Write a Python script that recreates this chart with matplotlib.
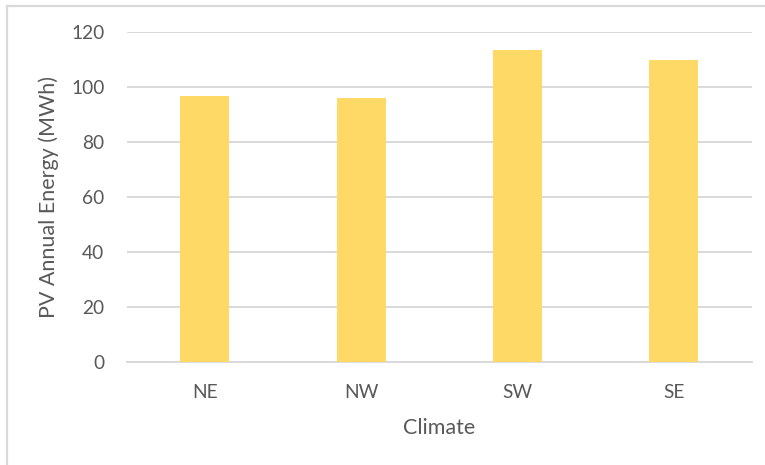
import matplotlib as mpl
mpl.use("Agg")
import matplotlib.pyplot as plt
from matplotlib.lines import Line2D

climates = ["NE", "NW", "SW", "SE"]
pv_energy = [96.7, 96.0, 113.4, 109.7]
y_ticks = [0, 20, 40, 60, 80, 100, 120]

TEXT = "#595959"
GRID = "#d9d9d9"
BAR = "#fed966"

mpl.rcParams["font.family"] = ["Lato", "DejaVu Sans"]

W, H = 765, 465
fig = plt.figure(figsize=(W / 100, H / 100), dpi=100)
ax = fig.add_axes([126.7 / W, 1 - 361.7 / H, (752 - 126.7) / W, (361.7 - 31.7) / H])

x = range(len(climates))
ax.bar(x, pv_energy, width=0.315, color=BAR, zorder=3)

ax.set_xlim(-0.5, len(climates) - 0.5)
ax.set_ylim(0, 120)
ax.set_yticks(y_ticks)
ax.set_xticks(list(x))
ax.set_xticklabels(climates)

ax.grid(axis="y", color=GRID, lw=1.4, zorder=0)
ax.set_axisbelow(True)
for s in ["top", "right", "left"]:
    ax.spines[s].set_visible(False)
ax.spines["bottom"].set_color(GRID)
ax.spines["bottom"].set_linewidth(1.4)

ax.tick_params(axis="both", length=0, labelsize=13.8, colors=TEXT)
ax.tick_params(axis="y", pad=16)
ax.tick_params(axis="x", pad=16)

ax.set_xlabel("Climate", fontsize=15.5, color=TEXT, labelpad=12)
ax.set_ylabel("PV Annual Energy (MWh)", fontsize=15.5, color=TEXT, labelpad=9)

# chart frame (only left and top edges visible in the crop)
fig.add_artist(Line2D([7 / W, 7 / W], [0, 1 - 6.5 / H], transform=fig.transFigure,
                      color=GRID, lw=1.6))
fig.add_artist(Line2D([7 / W, 1], [1 - 6.5 / H, 1 - 6.5 / H], transform=fig.transFigure,
                      color=GRID, lw=1.6))

fig.savefig("out.png", dpi=100)
